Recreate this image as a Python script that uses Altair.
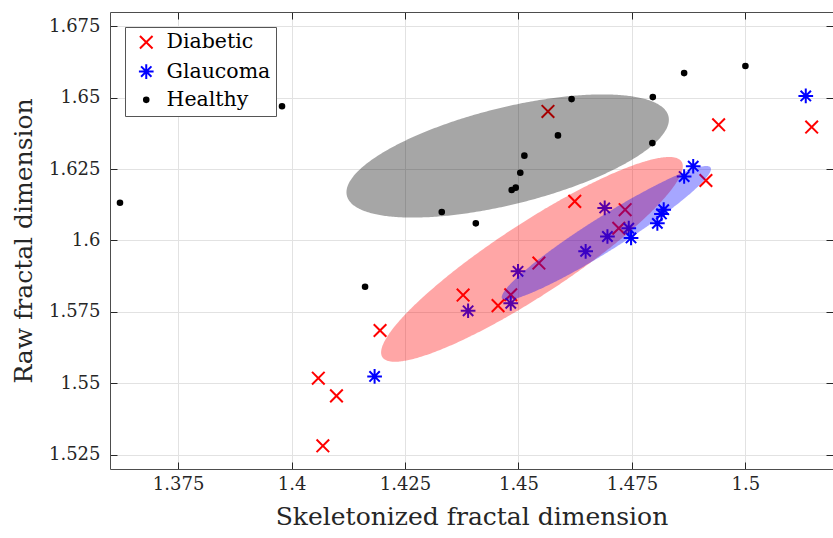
import altair as alt
import numpy as np
import pandas as pd

# Skeletonized (x) and raw (y) fractal dimension of each image, per group
diabetic_skel = [1.4565, 1.4941, 1.5146, 1.4913, 1.4624, 1.4735, 1.4721, 1.4545,
                 1.4378, 1.4455, 1.4483, 1.4195, 1.4059, 1.4099, 1.4069]
diabetic_raw = [1.6452, 1.6405, 1.6397, 1.6210, 1.6137, 1.6108, 1.6043, 1.5921,
                1.5809, 1.5772, 1.5810, 1.5685, 1.5518, 1.5456, 1.5281]
glaucoma_skel = [1.5133, 1.4885, 1.4865, 1.4820, 1.4815, 1.4806, 1.4748, 1.4743,
                 1.4690, 1.4696, 1.4648, 1.4499, 1.4389, 1.4483, 1.4183]
glaucoma_raw = [1.6506, 1.6260, 1.6224, 1.6108, 1.6093, 1.6060, 1.6009, 1.6043,
                1.6114, 1.6014, 1.5962, 1.5892, 1.5754, 1.5780, 1.5524]
healthy_skel = [1.3622, 1.3979, 1.4162, 1.4331, 1.4406, 1.4485, 1.4494, 1.4504,
                1.4513, 1.4587, 1.4617, 1.4796, 1.4795, 1.4865, 1.5000]
healthy_raw = [1.6132, 1.6470, 1.5838, 1.6100, 1.6060, 1.6177, 1.6185, 1.6237,
               1.6297, 1.6368, 1.6495, 1.6502, 1.6341, 1.6586, 1.6611]

groups = ["Diabetic", "Glaucoma", "Healthy"]
group_colors = ["#ff0000", "#0000ff", "#000000"]

# Group ellipses: centre, half-extent along each axis, and x/y correlation
ellipse_groups = ["Healthy", "Diabetic", "Glaucoma"]
ellipse_cx = [1.44762, 1.45297, 1.46936]
ellipse_cy = [1.62959, 1.59339, 1.60259]
ellipse_hx = [0.03552, 0.03324, 0.02305]
ellipse_hy = [0.02156, 0.03585, 0.02349]
ellipse_r = [0.589, 0.909, 0.955]
ellipse_colors = ["#000000", "#ff0000", "#0000ff"]

x_ticks = [1.375, 1.4, 1.425, 1.45, 1.475, 1.5]
y_ticks = [1.525, 1.55, 1.575, 1.6, 1.625, 1.65, 1.675]
# the x range is cut at the right edge of the canvas
x_limits = [1.36, 1.5193]
y_limits = [1.52, 1.68]

FONT = "DejaVu Serif"
INK = "#262626"
FRAME = "#4d4d4d"

points = pd.DataFrame({
    "skel": diabetic_skel + glaucoma_skel + healthy_skel,
    "raw": diabetic_raw + glaucoma_raw + healthy_raw,
    "group": ["Diabetic"] * len(diabetic_skel)
    + ["Glaucoma"] * len(glaucoma_skel)
    + ["Healthy"] * len(healthy_skel),
})


def ellipse_frame(cx, cy, hx, hy, r, n=241):
    # upper and lower boundary of the ellipse for each x across its width
    u = np.cos(np.linspace(np.pi, 0.0, n))
    s = np.sqrt(1.0 - r * r)
    w = np.sqrt(np.clip(1.0 - u * u, 0.0, None))
    return pd.DataFrame({
        "x": cx + hx * u,
        "lo": cy + hy * (r * u - s * w),
        "hi": cy + hy * (r * u + s * w),
    })


xs = alt.Scale(domain=x_limits, nice=False, zero=False)
ys = alt.Scale(domain=y_limits, nice=False, zero=False)

TICK = 7

x_path = "M-0.9,-0.9L0.9,0.9M-0.9,0.9L0.9,-0.9"
star_path = ("M-1.05,0L1.05,0M0,-1.05L0,1.05"
             "M-0.74,-0.74L0.74,0.74M-0.74,0.74L0.74,-0.74")
dot_path = "M-0.33,0A0.33,0.33 0 1,0 0.33,0A0.33,0.33 0 1,0 -0.33,0Z"

legend = alt.Legend(
    title=None, orient="none", legendX=15, legendY=15,
    strokeColor="#555555", fillColor="white", padding=5,
    labelFont=FONT, labelFontSize=20.5, labelColor="#000000",
    symbolSize=196, symbolStrokeWidth=2, rowPadding=6.3,
    symbolOffset=6, labelOffset=10, cornerRadius=0,
)

scatter = alt.Chart(points).mark_point(size=196, strokeWidth=2, opacity=1).encode(
    x=alt.X("skel:Q", scale=xs, axis=alt.Axis(
        orient="bottom", values=x_ticks, format=".3~f",
        title="Skeletonized fractal dimension",
        offset=-TICK, tickSize=TICK, domain=False, grid=True,
        labelPadding=6, titlePadding=11)),
    y=alt.Y("raw:Q", scale=ys, axis=alt.Axis(
        orient="left", values=y_ticks, format=".3~f",
        title="Raw fractal dimension",
        offset=-TICK, tickSize=TICK, domain=False, grid=True,
        labelPadding=10, titlePadding=12)),
    shape=alt.Shape("group:N", scale=alt.Scale(domain=groups, range=[x_path, star_path, dot_path]), legend=legend),
    stroke=alt.Stroke("group:N", scale=alt.Scale(domain=groups, range=group_colors), legend=legend),
    fill=alt.Fill("group:N", scale=alt.Scale(domain=groups, range=["transparent", "transparent", "#000000"]), legend=legend),
)


def frame_axis(orient):
    # plain box edge: domain line only
    return alt.Axis(orient=orient, values=[], labels=False, ticks=False, title=None,
                    domain=True, domainColor=FRAME, domainWidth=1, grid=False)


def tick_axis(orient, vals):
    # inward tick marks mirrored on the top and right edges
    return alt.Axis(orient=orient, values=vals, labels=False, title=None,
                    offset=-TICK, tickSize=TICK, domain=False, grid=False)


ellipse_axes = [
    (tick_axis("top", x_ticks), tick_axis("right", y_ticks)),
    (frame_axis("bottom"), frame_axis("left")),
    (frame_axis("top"), None),
]

layers = [scatter]
for i, g in enumerate(ellipse_groups):
    df = ellipse_frame(ellipse_cx[i], ellipse_cy[i], ellipse_hx[i], ellipse_hy[i], ellipse_r[i])
    xa, ya = ellipse_axes[i]
    layers.append(
        alt.Chart(df).mark_area(color=ellipse_colors[i], opacity=0.35, interpolate="linear").encode(
            x=alt.X("x:Q", scale=xs, axis=xa, sort=None),
            y=alt.Y("lo:Q", scale=ys, axis=ya, stack=None),
            y2="hi:Q",
        )
    )

chart = alt.layer(*layers).resolve_axis(x="independent", y="independent").properties(
    width=723, height=457,
    padding={"left": 110, "top": 12, "right": 0, "bottom": 69},
    autosize="none",
    background="white",
).configure_view(
    strokeWidth=0,
).configure_axis(
    labelFont=FONT, labelFontSize=18, labelColor=INK,
    titleFont=FONT, titleFontSize=25, titleFontWeight="normal", titleColor=INK,
    tickColor=INK, tickWidth=1, gridColor="#e2e2e2", gridWidth=1,
)

chart.save("out.html", embed_options={"renderer": "svg", "actions": False})
